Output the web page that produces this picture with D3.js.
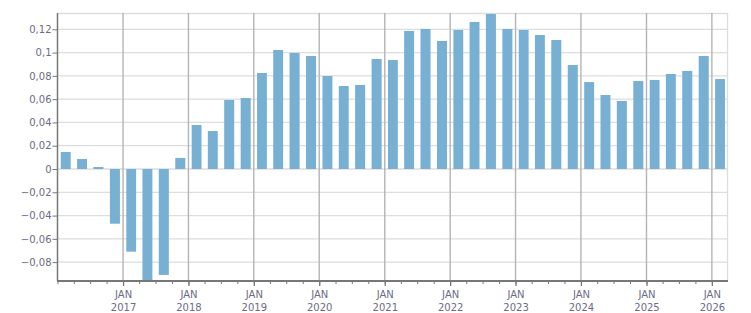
<!DOCTYPE html>
<html>
<head>
<meta charset="utf-8">
<script src="https://d3js.org/d3.v7.min.js"></script>
<style>
  body { margin: 0; background: #fff; }
  .tick text { font-family: "DejaVu Sans", sans-serif; font-size: 10px; fill: #6b6b85; }
</style>
</head>
<body>
<div id="chart"></div>
<script>
// quarterly values, 2016 Q1 .. 2026 Q1
var quarters = [
  "2016-Q1", "2016-Q2", "2016-Q3", "2016-Q4",
  "2017-Q1", "2017-Q2", "2017-Q3", "2017-Q4",
  "2018-Q1", "2018-Q2", "2018-Q3", "2018-Q4",
  "2019-Q1", "2019-Q2", "2019-Q3", "2019-Q4",
  "2020-Q1", "2020-Q2", "2020-Q3", "2020-Q4",
  "2021-Q1", "2021-Q2", "2021-Q3", "2021-Q4",
  "2022-Q1", "2022-Q2", "2022-Q3", "2022-Q4",
  "2023-Q1", "2023-Q2", "2023-Q3", "2023-Q4",
  "2024-Q1", "2024-Q2", "2024-Q3", "2024-Q4",
  "2025-Q1", "2025-Q2", "2025-Q3", "2025-Q4",
  "2026-Q1"
];
var values = [
  0.0146, 0.0086, 0.0017, -0.047,
  -0.071, -0.0962, -0.091, 0.0095,
  0.0378, 0.0326, 0.0593, 0.061,
  0.0825, 0.1022, 0.0997, 0.0971,
  0.0799, 0.0713, 0.0722, 0.0945,
  0.0936, 0.1186, 0.1203, 0.110,
  0.1194, 0.1263, 0.1332, 0.1203,
  0.1194, 0.1151, 0.1108, 0.0893,
  0.0747, 0.0636, 0.0584, 0.0756,
  0.0765, 0.0816, 0.0842, 0.0971,
  0.0773
];
var yTicks = [-0.08, -0.06, -0.04, -0.02, 0, 0.02, 0.04, 0.06, 0.08, 0.1, 0.12];

var svgWidth = 751;
var svgHeight = 313;
var margin = { top: 13, right: 23, bottom: 32, left: 57.5 };
var width = svgWidth - margin.left - margin.right;
var height = svgHeight - margin.top - margin.bottom;

var svg = d3.select("#chart")
  .append("svg")
  .attr("width", svgWidth)
  .attr("height", svgHeight);

var chartGroup = svg.append("g")
  .attr("transform", `translate(${margin.left}, ${margin.top})`);

// turn "2016-Q1" into the first day of the quarter
function quarterStart(q) {
  var parts = q.split("-Q");
  return new Date(+parts[0], (+parts[1] - 1) * 3, 1);
}
var data = quarters.map(function(q, i) {
  var start = quarterStart(q);
  var end = new Date(start.getFullYear(), start.getMonth() + 3, 1);
  return { start: start, end: end, value: values[i] };
});

var xScale = d3.scaleTime()
  .domain([data[0].start, data[data.length - 1].end])
  .range([0, width]);

var yScale = d3.scaleLinear()
  .domain([-0.0962, 0.134])
  .range([height, 0]);

var fmt = function(d) { return d3.format("")(+d.toFixed(2)).replace(".", ","); };

// horizontal gridlines
chartGroup.append("g")
  .selectAll("line")
  .data(yTicks)
  .enter()
  .append("line")
  .attr("x1", 0)
  .attr("x2", width)
  .attr("y1", d => yScale(d))
  .attr("y2", d => yScale(d))
  .attr("stroke", "#dddddd")
  .attr("stroke-width", 1.3);

// top and right border
chartGroup.append("path")
  .attr("d", `M0,0.5H${width - 0.5}V${height}`)
  .attr("fill", "none")
  .attr("stroke", "#dddddd")
  .attr("stroke-width", 1.3);

// yearly vertical gridlines
var years = d3.timeYear.range(new Date(2017, 0, 1), new Date(2026, 1, 1));
chartGroup.append("g")
  .selectAll("line")
  .data(years)
  .enter()
  .append("line")
  .attr("x1", d => xScale(d))
  .attr("x2", d => xScale(d))
  .attr("y1", 0)
  .attr("y2", height)
  .attr("stroke", "#b4b4b4")
  .attr("stroke-width", 1.4);

// bars
chartGroup.append("g")
  .selectAll("rect")
  .data(data)
  .enter()
  .append("rect")
  .attr("x", function(d) {
    var w = xScale(d.end) - xScale(d.start);
    return xScale(d.start) + w * 0.2;
  })
  .attr("width", d => (xScale(d.end) - xScale(d.start)) * 0.61)
  .attr("y", d => yScale(Math.max(0, d.value)))
  .attr("height", d => Math.abs(yScale(d.value) - yScale(0)))
  .attr("fill", "#78b0d3");

// left axis
var leftAxis = d3.axisLeft(yScale)
  .tickValues(yTicks)
  .tickSize(5)
  .tickPadding(1)
  .tickFormat(fmt);
var yAxis = chartGroup.append("g").call(leftAxis);
yAxis.select(".domain").remove();
yAxis.selectAll(".tick line").attr("stroke", "#777");
yAxis.append("line")
  .attr("x1", 0).attr("x2", 0)
  .attr("y1", 0).attr("y2", height)
  .attr("stroke", "#777")
  .attr("stroke-width", 1.5);

// quarter minor ticks
var quarterTicks = d3.timeMonth.every(3).range(data[0].start, data[data.length - 1].end);
var minorAxis = d3.axisBottom(xScale)
  .tickValues(quarterTicks)
  .tickSize(3)
  .tickFormat("");
var xMinor = chartGroup.append("g")
  .attr("transform", `translate(0, ${height})`)
  .call(minorAxis);
xMinor.select(".domain").remove();
xMinor.selectAll(".tick line").attr("stroke", "#777");

// year ticks with labels
var bottomAxis = d3.axisBottom(xScale)
  .tickValues(years.concat([]))
  .tickSize(5)
  .tickPadding(4)
  .tickFormat("");
var xAxis = chartGroup.append("g")
  .attr("transform", `translate(0, ${height})`)
  .call(bottomAxis);
xAxis.select(".domain").remove();
xAxis.selectAll(".tick line").attr("stroke", "#777").attr("stroke-width", 1.3);
xAxis.selectAll(".tick").append("text")
  .attr("y", 16.5)
  .attr("text-anchor", "middle")
  .text("JAN");
xAxis.selectAll(".tick").append("text")
  .attr("y", 30)
  .attr("text-anchor", "middle")
  .text(d => d.getFullYear());

// bottom axis line
chartGroup.append("line")
  .attr("x1", -0.5).attr("x2", width)
  .attr("y1", height).attr("y2", height)
  .attr("stroke", "#777")
  .attr("stroke-width", 2.2);
</script>
</body>
</html>
